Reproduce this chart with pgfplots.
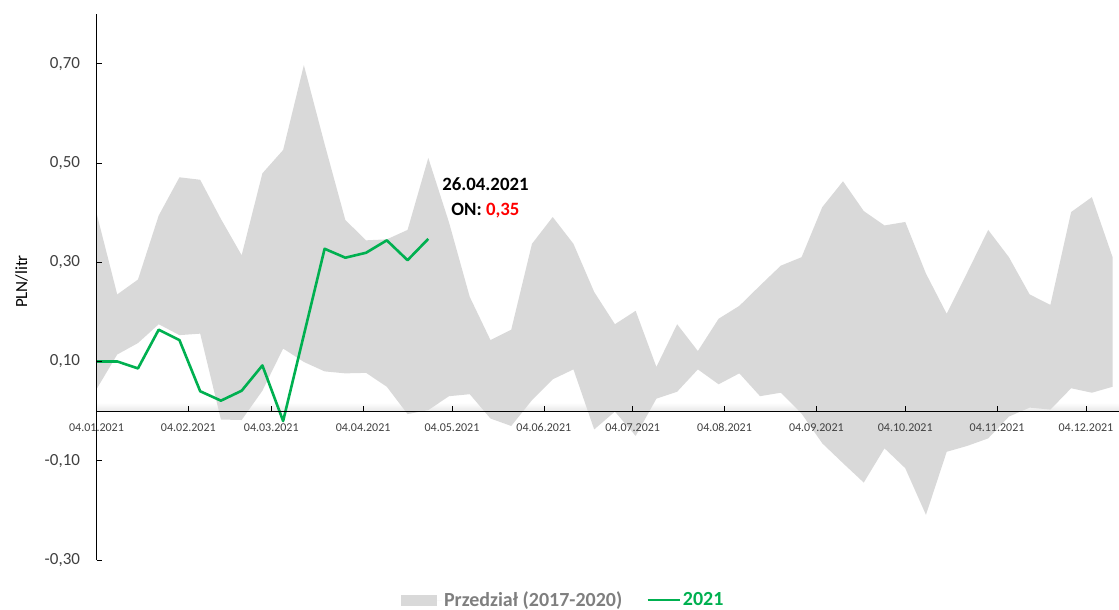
\documentclass[border=0pt]{standalone}
\usepackage{fontspec}
\setmainfont{Carlito}
\usepackage{pgfplots}
\usepackage{pgfplotstable}
\pgfplotsset{compat=1.18}
\definecolor{band}{HTML}{D9D9D9}
\definecolor{grn}{HTML}{00B050}
\definecolor{legtxt}{HTML}{7F7F7F}
\definecolor{ticktxt}{HTML}{404040}

% band outline: upper edge left-to-right, then lower edge right-to-left
\pgfplotstableread{
day val
0 0.399
7 0.235
14 0.265
21 0.394
28 0.471
35 0.466
42 0.387
49 0.314
56 0.479
63 0.526
70 0.697
77 0.538
84 0.385
91 0.344
98 0.346
105 0.365
112 0.510
119 0.380
126 0.230
133 0.143
140 0.164
147 0.337
154 0.391
161 0.337
168 0.240
175 0.175
182 0.202
189 0.089
196 0.175
203 0.121
210 0.186
217 0.212
224 0.253
231 0.293
238 0.310
245 0.411
252 0.463
259 0.403
266 0.374
273 0.381
280 0.277
287 0.196
294 0.280
301 0.365
308 0.310
315 0.235
322 0.214
329 0.401
336 0.431
343 0.310
343 0.049
336 0.037
329 0.046
322 0.003
315 0.007
308 -0.011
301 -0.055
294 -0.070
287 -0.082
280 -0.209
273 -0.115
266 -0.075
259 -0.144
252 -0.105
245 -0.065
238 -0.005
231 0.037
224 0.030
217 0.076
210 0.054
203 0.084
196 0.039
189 0.025
182 -0.050
175 -0.001
168 -0.037
161 0.084
154 0.064
147 0.022
140 -0.030
133 -0.015
126 0.034
119 0.030
112 0.002
105 -0.006
98 0.049
91 0.077
84 0.076
77 0.080
70 0.099
63 0.126
56 0.041
49 -0.018
42 -0.017
35 0.156
28 0.153
21 0.175
14 0.137
7 0.114
0 0.044
}\bandtable

\pgfplotstableread{
day val
0 0.100
7 0.100
14 0.086
21 0.164
28 0.143
35 0.040
42 0.021
49 0.041
56 0.092
63 -0.020
77 0.327
84 0.309
91 0.319
98 0.344
105 0.304
112 0.347
}\ontable

\begin{document}
\begin{tikzpicture}
\path[use as bounding box] (0bp,0bp) rectangle (1119bp,610bp);
\begin{axis}[
  at={(96.5bp,50bp)}, anchor=south west,
  scale only axis, width=1022bp, height=546bp,
  xmin=0, xmax=345, ymin=-0.3, ymax=0.8,
  axis x line=middle, axis y line=left,
  hide obscured x ticks=false,
  axis line style={-, black, line width=0.8bp},
  axis on top,
  tick align=inside,
  major tick length=5bp,
  tick style={black, line width=0.6bp},
  xtick={0,31,59,90,120,151,181,212,243,273,304,334},
  xticklabels={04.01.2021,04.02.2021,04.03.2021,04.04.2021,04.05.2021,04.06.2021,04.07.2021,04.08.2021,04.09.2021,04.10.2021,04.11.2021,04.12.2021},
  xticklabel style={font=\fontsize{12bp}{14bp}\selectfont, color=ticktxt, yshift=-9bp},
  ytick={-0.3,-0.1,0.1,0.3,0.5,0.7},
  yticklabel style={font=\fontsize{17bp}{19bp}\selectfont, color=ticktxt, xshift=-13bp,
    /pgf/number format/.cd, fixed, fixed zerofill, precision=2, use comma, assume math mode=true},
  ylabel={PLN/litr},
  ylabel style={font=\fontsize{17bp}{19bp}\selectfont},
  every axis y label/.append style={at={(axis description cs:-0.0732,0.51)}, anchor=center},
  legend style={at={(axis description cs:0.4567,-0.0733)}, anchor=center, draw=none, fill=none,
    font=\bfseries\fontsize{20bp}{22bp}\selectfont,
    /tikz/every even column/.append style={column sep=22bp}},
  legend columns=2,
]
\fill[top color=white, bottom color=black!9] (axis cs:0,0) rectangle (axis cs:345,0.017);
\addplot[fill=band, draw=none, legend image code/.code={\fill[band] (0bp,-5.5bp) rectangle (36bp,5.5bp); \path (0bp,0bp) -- (41bp,0bp);}] table[x=day, y=val] {\bandtable};
\addlegendentry{\textcolor{legtxt}{Przedział (2017-2020)}}
\addplot[grn, line width=2.6bp, line join=round, legend image code/.code={\draw[grn, line width=2.6bp] (0bp,0bp) -- (32bp,0bp);}] table[x=day, y=val] {\ontable};
\addlegendentry{\textcolor{grn}{2021}}
\node[align=center, font=\bfseries\fontsize{18.8bp}{24.5bp}\selectfont] at (axis cs:131.3,0.43) {26.04.2021\\ON: \textcolor{red}{0,35}};
\end{axis}
\end{tikzpicture}
\end{document}
